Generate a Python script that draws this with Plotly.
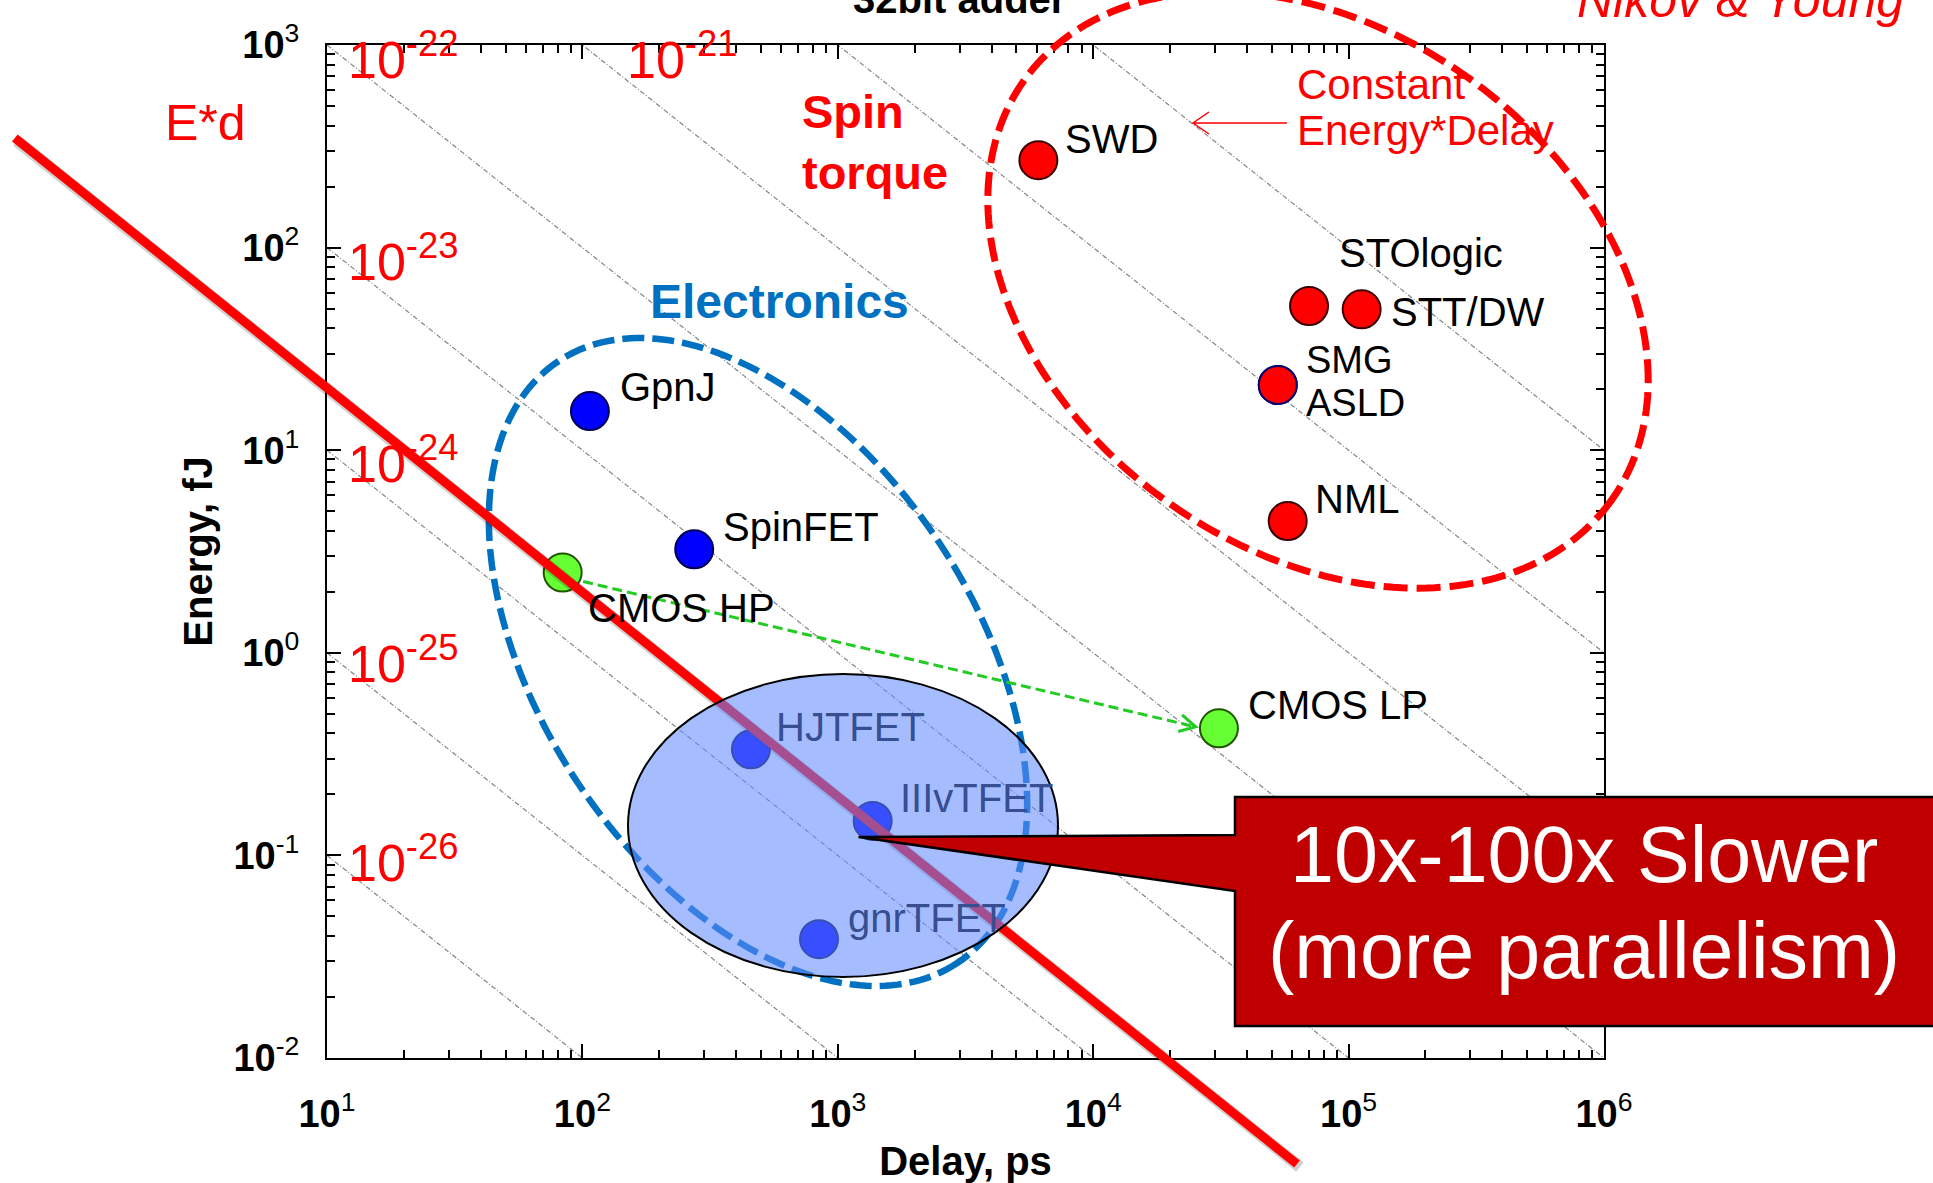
import numpy as np
import plotly.graph_objects as go

FONT = "Liberation Sans, Arial, Helvetica, sans-serif"

# ---------------------------------------------------------------------------
# 32-bit adder: delay (ps) and energy (fJ) per device family
# ---------------------------------------------------------------------------
spin_names = ["SWD", "STOlogic", "STT/DW", "SMG", "ASLD", "NML"]
spin_delay = [6100, 70000, 112500, 52800, 52800, 57750]
spin_energy = [270, 51.5, 49.6, 21.0, 21.0, 4.47]

elec_names = ["GpnJ", "SpinFET"]
elec_delay = [107, 274]
elec_energy = [15.6, 3.24]

cmos_names = ["CMOS HP", "CMOS LP"]
cmos_delay = [83.7, 31070]
cmos_energy = [2.49, 0.424]

tfet_names = ["HJTFET", "IIIvTFET", "gnrTFET"]
tfet_delay = [457, 1369, 844]
tfet_energy = [0.334, 0.148, 0.0386]

# constant energy*delay guide lines (fJ*ps) and their labels
ed_products = [1e0, 1e1, 1e2, 1e3, 1e4, 1e5, 1e6, 1e7]
ed_label_products = [1e0, 1e1, 1e2, 1e3, 1e4, 1e5]
ed_label_texts = ["10<sup>-26</sup>", "10<sup>-25</sup>", "10<sup>-24</sup>",
                  "10<sup>-23</sup>", "10<sup>-22</sup>", "10<sup>-21</sup>"]

# axis ticks
x_tickvals = [1e1, 1e2, 1e3, 1e4, 1e5, 1e6]
x_ticktext = ["<b>10</b><sup>1</sup>", "<b>10</b><sup>2</sup>", "<b>10</b><sup>3</sup>",
              "<b>10</b><sup>4</sup>", "<b>10</b><sup>5</sup>", "<b>10</b><sup>6</sup>"]
y_tickvals = [1e-2, 1e-1, 1e0, 1e1, 1e2, 1e3]
y_ticktext = ["<b>10</b><sup>-2</sup>", "<b>10</b><sup>-1</sup>", "<b>10</b><sup>0</sup>",
              "<b>10</b><sup>1</sup>", "<b>10</b><sup>2</sup>", "<b>10</b><sup>3</sup>"]

X_RANGE = [1, 6]
Y_RANGE = [-2, 3]

# ---------------------------------------------------------------------------
# page geometry (pixels)
# ---------------------------------------------------------------------------
FIG_W, FIG_H = 1933, 1183
ML, MR, MT, MB = 327, 329, 45, 125
PW = FIG_W - ML - MR
PH = FIG_H - MT - MB


def xpix(d):
    return ML + (np.log10(d) - X_RANGE[0]) / (X_RANGE[1] - X_RANGE[0]) * PW


def ypix(e):
    return MT + (Y_RANGE[1] - np.log10(e)) / (Y_RANGE[1] - Y_RANGE[0]) * PH


def paper(px, py):
    return (px - ML) / PW, (MT + PH - py) / PH


def path_from_pixels(points, close=False):
    parts = []
    for i, (px, py) in enumerate(points):
        xp, yp = paper(px, py)
        parts.append(("M" if i == 0 else "L") + f"{xp:.5f},{yp:.5f}")
    return " ".join(parts) + (" Z" if close else "")


def ellipse_path(cx, cy, a, b, theta_deg, n=240):
    t = np.linspace(0, 2 * np.pi, n, endpoint=False)
    th = np.radians(theta_deg)
    xs = cx + a * np.cos(t) * np.cos(th) - b * np.sin(t) * np.sin(th)
    ys = cy + a * np.cos(t) * np.sin(th) + b * np.sin(t) * np.cos(th)
    return path_from_pixels(list(zip(xs, ys)), close=True)


fig = go.Figure()

# iso energy*delay lines
for p in ed_products:
    fig.add_trace(go.Scatter(
        x=[10 ** X_RANGE[0], 10 ** X_RANGE[1]],
        y=[p / 10 ** X_RANGE[0], p / 10 ** X_RANGE[1]],
        mode="lines", line=dict(color="#858585", width=1.2, dash="5px,2px,1px,2px"),
        hoverinfo="skip", showlegend=False))


def add_points(delays, energies, fill, edge):
    fig.add_trace(go.Scatter(
        x=delays, y=energies, mode="markers",
        marker=dict(size=38, color=fill, line=dict(color=edge, width=2)),
        showlegend=False))


add_points(spin_delay, spin_energy, "#FF0000",
           ["#3A0000", "#3A0000", "#3A0000", "#000070", "#000070", "#3A0000"])
add_points(elec_delay, elec_energy, "#0000FF", "#000050")
add_points(cmos_delay, cmos_energy, "#66FF33", "#225500")
add_points(tfet_delay, tfet_energy, "#0000FF", "#000050")

# ---------------------------------------------------------------------------
# point labels: (dx to text start, dy to baseline, font size) in pixels
# ---------------------------------------------------------------------------
label_offsets = {
    "SWD": (29, -8, 40), "STOlogic": (32, -39, 40), "STT/DW": (31, 16, 40),
    "SMG": (30, -12, 38), "ASLD": (30, 31, 38), "NML": (29, -9, 40),
    "GpnJ": (32, -11, 40), "SpinFET": (31, -9, 40),
    "CMOS HP": (27, 49, 40), "CMOS LP": (31, -10, 40),
    "HJTFET": (27, -9, 40), "IIIvTFET": (29, -9, 40), "gnrTFET": (31, -8, 40),
}
for names, delays, energies, col in [
        (spin_names, spin_delay, spin_energy, "black"),
        (elec_names, elec_delay, elec_energy, "black"),
        (cmos_names, cmos_delay, cmos_energy, "black"),
        (tfet_names, tfet_delay, tfet_energy, "#374F91")]:
    for n, d, e in zip(names, delays, energies):
        dx, dyb, fs = label_offsets[n]
        fig.add_annotation(
            x=np.log10(d), y=np.log10(e), xref="x", yref="y", text=n,
            showarrow=False, xanchor="left", yanchor="bottom",
            xshift=dx - 2, yshift=-(dyb + 0.212 * fs),
            borderpad=0, borderwidth=0,
            font=dict(family=FONT, size=fs, color=col))

# labels of the iso lines, placed where each line enters the frame
ED_SIZE = 52
ed_label_shift = {1e0: (21, 26), 1e1: (21, 29), 1e2: (21, 32),
                  1e3: (21, 32), 1e4: (21, 33), 1e5: (45, 33)}
for p, txt in zip(ed_label_products, ed_label_texts):
    x_in = max(10 ** X_RANGE[0], p / 10 ** Y_RANGE[1])
    y_in = p / x_in
    dx, dyb = ed_label_shift[p]
    fig.add_annotation(
        x=np.log10(x_in), y=np.log10(y_in), xref="x", yref="y", text=txt,
        showarrow=False, xanchor="left", yanchor="bottom",
        xshift=dx, yshift=-(dyb + 0.212 * ED_SIZE), borderpad=0, borderwidth=0,
        font=dict(family=FONT, size=ED_SIZE, color="#FF0000"))


def text_at(text, x, baseline, size, color, anchor="left", bold=False, italic=False):
    xp, _ = paper(x, 0)
    _, yp = paper(0, baseline + 0.212 * size)
    if bold:
        text = f"<b>{text}</b>"
    if italic:
        text = f"<i>{text}</i>"
    fig.add_annotation(
        x=xp, y=yp, xref="paper", yref="paper", text=text, showarrow=False,
        xanchor=anchor, yanchor="bottom", borderpad=0, borderwidth=0,
        font=dict(family=FONT, size=size, color=color))


text_at("32bit adder", 959.5, 13, 40, "black", anchor="center", bold=True)
text_at("Nikov &amp; Young", 1577, 17, 50, "#FF0000", italic=True)
text_at("E*d", 165, 140, 50, "#FF0000")
text_at("Spin", 802, 128, 47, "#FF0000", bold=True)
text_at("torque", 802, 189, 47, "#FF0000", bold=True)
text_at("Electronics", 650, 318, 48, "#0070C0", bold=True)
text_at("Constant", 1297, 99, 42, "#FF0000")
text_at("Energy*Delay", 1297, 145, 42, "#FF0000")

# ---------------------------------------------------------------------------
# overlay shapes
# ---------------------------------------------------------------------------
shapes = []
# group outlines
shapes.append(dict(type="path", xref="paper", yref="paper", layer="above",
                   path=ellipse_path(1318, 290, 361, 260, 35.65),
                   line=dict(color="#FF0000", width=7, dash="24px,9px")))
shapes.append(dict(type="path", xref="paper", yref="paper", layer="above",
                   path=ellipse_path(758, 662, 361, 217, 56.5),
                   line=dict(color="#0070C0", width=6.5, dash="22px,8px")))

# arrow to an iso line
shapes.append(dict(type="path", xref="paper", yref="paper", layer="above",
                   path=path_from_pixels([(1287, 123), (1193, 123)]) + " " +
                   path_from_pixels([(1209, 112), (1193, 123), (1209, 134)]),
                   line=dict(color="#FF0000", width=1.5)))

# CMOS HP -> CMOS LP arrow
hp = np.array([xpix(cmos_delay[0]), ypix(cmos_energy[0])])
lp = np.array([xpix(cmos_delay[1]), ypix(cmos_energy[1])])
u = (lp - hp) / np.linalg.norm(lp - hp)
nrm = np.array([-u[1], u[0]])
start = hp + 22 * u + 4 * nrm
tip = lp - 23 * u + 4 * nrm
shapes.append(dict(type="path", xref="paper", yref="paper", layer="above",
                   path=path_from_pixels([tuple(start), tuple(tip)]),
                   line=dict(color="#22CC22", width=3, dash="10px,5px")))
ang = np.radians(28)
arms = []
for s in (1, -1):
    c, sn = np.cos(s * ang), np.sin(s * ang)
    back = -u
    rv = np.array([back[0] * c - back[1] * sn, back[0] * sn + back[1] * c])
    arms.append(tuple(tip + 18 * rv))
shapes.append(dict(type="path", xref="paper", yref="paper", layer="above",
                   path=path_from_pixels([arms[0], tuple(tip), arms[1]]),
                   line=dict(color="#22CC22", width=3)))

# trend line with a soft shadow
shapes.append(dict(type="path", xref="paper", yref="paper", layer="above",
                   path=path_from_pixels([(17, 141), (1300, 1167)]),
                   line=dict(color="rgba(0,0,0,0.18)", width=12)))
shapes.append(dict(type="path", xref="paper", yref="paper", layer="above",
                   path=path_from_pixels([(14.8, 138), (1297, 1164)]),
                   line=dict(color="#FF0000", width=9)))

# TFET highlight
x0, y0 = paper(628, 977)
x1, y1 = paper(1058, 674)
shapes.append(dict(type="circle", xref="paper", yref="paper", layer="above",
                   x0=x0, y0=y0, x1=x1, y1=y1,
                   fillcolor="rgba(96,139,255,0.57)", line=dict(color="black", width=2)))

# callout box
shapes.append(dict(type="path", xref="paper", yref="paper", layer="above",
                   path=path_from_pixels([(858.5, 837), (1235, 835), (1235, 797),
                                          (1950, 797), (1950, 1026), (1235, 1026),
                                          (1235, 891)], close=True),
                   fillcolor="#C00000", line=dict(color="black", width=2.5)))

text_at("10x-100x Slower", 1584, 882, 79, "white", anchor="center")
text_at("(more parallelism)", 1584, 978, 79, "white", anchor="center")

minor_x = [m * 10 ** k for k in range(1, 6) for m in range(2, 10)]
minor_y = [m * 10.0 ** k for k in range(-2, 3) for m in range(2, 10)]

axis_common = dict(
    type="log", showline=True, linecolor="black", linewidth=2, mirror="ticks",
    ticks="inside", ticklen=14, tickwidth=1.5, tickcolor="black",
    showgrid=False, zeroline=False, automargin=False,
    tickfont=dict(family=FONT, size=38, color="black"),
)

fig.update_layout(
    width=FIG_W, height=FIG_H, autosize=False,
    margin=dict(l=ML, r=MR, t=MT, b=MB, pad=0),
    paper_bgcolor="white", plot_bgcolor="white",
    font=dict(family=FONT, color="black"),
    shapes=shapes, showlegend=False,
    xaxis=dict(range=X_RANGE, tickmode="array", tickvals=x_tickvals, ticktext=x_ticktext,
               minor=dict(ticks="inside", ticklen=8, tickwidth=1.5, tickcolor="black",
                          tickvals=minor_x),
               ticklabelstandoff=21,
               title=dict(text="<b>Delay, ps</b>", font=dict(family=FONT, size=40), standoff=16),
               **axis_common),
    yaxis=dict(range=Y_RANGE, tickmode="array", tickvals=y_tickvals, ticktext=y_ticktext,
               minor=dict(ticks="inside", ticklen=8, tickwidth=1.5, tickcolor="black",
                          tickvals=minor_y),
               ticklabelstandoff=18,
               title=dict(text="<b>Energy, fJ</b>", font=dict(family=FONT, size=40), standoff=8),
               **axis_common),
)

fig.write_html("out.html")
